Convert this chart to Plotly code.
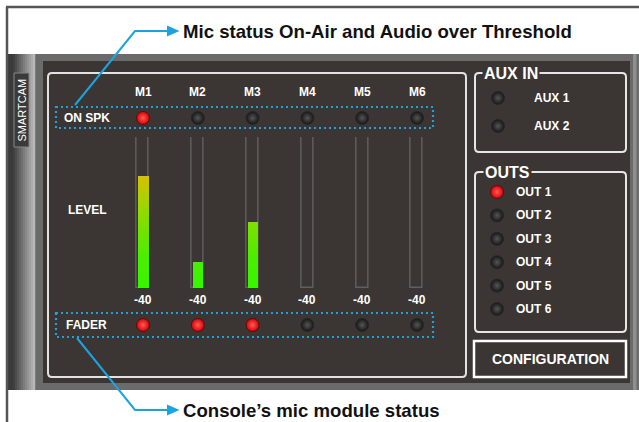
import plotly.graph_objects as go

# ---------------- data ----------------
channels = ["M1", "M2", "M3", "M4", "M5", "M6"]
on_spk = [1, 0, 0, 0, 0, 0]            # mic on-air / audio over threshold
level_pct = [74, 17, 44, 0, 0, 0]       # level meter fill (% of meter)
fader_db = [-40, -40, -40, -40, -40, -40]
fader_on = [1, 1, 1, 0, 0, 0]           # console mic module status
aux_names = ["AUX 1", "AUX 2"]
aux_on = [0, 0]
out_names = ["OUT 1", "OUT 2", "OUT 3", "OUT 4", "OUT 5", "OUT 6"]
out_on = [1, 0, 0, 0, 0, 0]
top_note = "Mic status On-Air and Audio over Threshold"
bottom_note = "Console\u2019s mic module status"

# ---------------- style / layout constants ----------------
W, H = 639, 422
PANEL = "#3b3633"
FRAME = "#6b6b6b"
BLUE = "#1ba3e0"
FONT = "Liberation Sans, Arial, sans-serif"
LED_EDGE = {1: "#d80000", 0: "#161616"}
LED_CENTER = {1: "#ff5a5a", 0: "#555555"}
LED_LINE = {1: "#5a0c0c", 0: "#262626"}

ROW_ONSPK_Y = 118
ROW_FADER_Y = 325
ROW_HEAD_Y = 92
ROW_DB_Y = 300


def px2py(v):
    return 1 - v / H


shapes = []


def rect(x0, y0, x1, y1, fill=None, line=None, lw=0, dash=None, layer="below"):
    d = dict(type="rect", xref="x", yref="y", x0=x0, y0=y0, x1=x1, y1=y1,
             layer=layer, line=dict(width=lw, color=line or "rgba(0,0,0,0)"))
    if dash:
        d["line"]["dash"] = dash
    if fill:
        d["fillcolor"] = fill
    shapes.append(d)


def rrect(x0, y0, x1, y1, r, color, lw):
    p = (f"M {x0+r} {y0} L {x1-r} {y0} Q {x1} {y0} {x1} {y0+r} L {x1} {y1-r} "
         f"Q {x1} {y1} {x1-r} {y1} L {x0+r} {y1} Q {x0} {y1} {x0} {y1-r} "
         f"L {x0} {y0+r} Q {x0} {y0} {x0+r} {y0} Z")
    shapes.append(dict(type="path", xref="x", yref="y", path=p, layer="below",
                       line=dict(color=color, width=lw)))


# outer frame
rect(35, 54, W, 390, fill=FRAME)
# left gradient strip
for i in range(14):
    x0 = 7 + 2 * i
    t = max(0.0, (x0 - 12) / 21)
    c = int(58 + t * (185 - 58))
    rect(x0, 54, x0 + 2.2, 390, fill=f"rgb({c},{c},{c})")
rect(633, 54, 636.5, 390, fill="#8f8f8f")
# inner dark panel
rect(43, 61, 630, 383, fill=PANEL)
# SMARTCAM tab
rect(14, 73, 29, 147, fill="#3a3a3a", line="#858585", lw=1)
# main panel and side boxes
rrect(48, 73, 466, 377, 4, "#e2e2e2", 2)
rrect(475, 73, 626, 152, 4, "#e6e6e6", 2)
rrect(475, 172, 626, 332, 4, "#e6e6e6", 2)
rect(474, 341, 626, 377, line="#ffffff", lw=2.5)
# dotted selection boxes
rect(56, 107, 433, 128, line=BLUE, lw=2.2, dash="2px,3px")
rect(56, 313, 433, 337, line=BLUE, lw=2.2, dash="2px,3px")
# callout arrows
for path, tri in [("M 75 105 L 135 31 L 169 31", "M 167 25.5 L 179.5 31 L 167 36.5 Z"),
                  ("M 77 338 L 135 410 L 169 410", "M 167 404.5 L 179.5 410 L 167 415.5 Z")]:
    shapes.append(dict(type="path", xref="x", yref="y", path=path, layer="below",
                       line=dict(color=BLUE, width=2)))
    shapes.append(dict(type="path", xref="x", yref="y", path=tri, layer="below",
                       fillcolor=BLUE, line=dict(color=BLUE, width=0)))
# page border lines
shapes.append(dict(type="line", xref="x", yref="y", x0=7, y0=7, x1=7, y1=H, layer="below",
                   line=dict(color="#555555", width=2.5)))
shapes.append(dict(type="line", xref="x", yref="y", x0=6, y0=7, x1=W, y1=7, layer="below",
                   line=dict(color="#555555", width=2.5)))

fig = go.Figure()

# meter outlines
fig.add_trace(go.Bar(x=channels, y=[100] * len(channels), width=0.22,
                     marker=dict(color="rgba(0,0,0,0)", line=dict(color="#5f5f5f", width=1.5)),
                     xaxis="x2", yaxis="y2", hoverinfo="skip"))
# meter fills, drawn as small stacked segments coloured by level
STEP = 1.0
seg_x, seg_base, seg_h, seg_c = [], [], [], []
for ch, v in zip(channels, level_pct):
    k = 0.0
    while k < v:
        h = min(STEP, v - k)
        seg_x.append(ch)
        seg_base.append(k)
        seg_h.append(min(h + 0.5, v - k))
        seg_c.append(k + h / 2)
        k += STEP
fig.add_trace(go.Bar(x=seg_x, y=seg_h, base=seg_base, width=0.19,
                     marker=dict(color=seg_c, cmin=0, cmax=100,
                                 colorscale=[[0, "#36f600"], [0.2, "#4aee00"], [0.44, "#80df00"],
                                             [0.74, "#d6c200"], [1, "#f0a000"]],
                                 line=dict(width=0)),
                     xaxis="x2", yaxis="y2", hoverinfo="skip"))


def leds(x, y, states, xaxis, yaxis):
    fig.add_trace(go.Scatter(
        x=x, y=y, mode="markers", xaxis=xaxis, yaxis=yaxis, hoverinfo="skip",
        marker=dict(size=13, color=[LED_EDGE[s] for s in states],
                    gradient=dict(type="radial", color=[LED_CENTER[s] for s in states]),
                    line=dict(color=[LED_LINE[s] for s in states], width=1))))


leds(channels, [ROW_ONSPK_Y] * len(channels), on_spk, "x2", "y")
leds(channels, [ROW_FADER_Y] * len(channels), fader_on, "x2", "y")
leds([498] * len(aux_names), aux_names, aux_on, "x", "y4")
leds([497] * len(out_names), out_names, out_on, "x", "y3")

ann = []


def label(text, x, y, size=12, xref="x", yref="y", xanchor="center", color="white",
          bold=True, **kw):
    ann.append(dict(text=text, x=x, y=y, xref=xref, yref=yref, xanchor=xanchor,
                    yanchor="middle", showarrow=False,
                    font=dict(family=FONT, size=size, color=color,
                              weight="bold" if bold else "normal"), **kw))


for ch in channels:
    label(ch, ch, ROW_HEAD_Y, xref="x2")
for ch, db in zip(channels, fader_db):
    label(str(db), ch, ROW_DB_Y, xref="x2")
label("ON SPK", 62, ROW_ONSPK_Y, xanchor="left")
label("LEVEL", 66, 210, xanchor="left")
label("FADER", 64, ROW_FADER_Y, xanchor="left")
for nm in aux_names:
    label(nm, 532, nm, yref="y4", xanchor="left")
for nm in out_names:
    label(nm, 514, nm, yref="y3", xanchor="left")
label("AUX IN", 482, 73, size=16, xanchor="left", bgcolor=PANEL, borderpad=1)
label("OUTS", 483, 172, size=16, xanchor="left", bgcolor=PANEL, borderpad=1)
label("CONFIGURATION", 550, 359, size=14)
label("SMARTCAM", 21.5, 110, size=11, bold=False, textangle=-90)
label(top_note, 181, 31, size=18.6, xanchor="left", color="#111111")
label(bottom_note, 181, 410, size=18.6, xanchor="left", color="#111111")

# channel axis domain: centres at 143 .. 417 px
ch_left, ch_right = 115.6, 444.4
out_top, out_bot = 180.3, 320.7
aux_top, aux_bot = 84, 140

fig.update_layout(
    width=W, height=H, margin=dict(l=0, r=0, t=0, b=0),
    paper_bgcolor="white", plot_bgcolor="rgba(0,0,0,0)",
    showlegend=False, barmode="overlay", bargap=0,
    shapes=shapes, annotations=ann,
    xaxis=dict(range=[0, W], domain=[0, 1], visible=False, fixedrange=True),
    yaxis=dict(range=[H, 0], domain=[0, 1], visible=False, fixedrange=True),
    xaxis2=dict(type="category", categoryorder="array", categoryarray=channels,
                range=[-0.5, len(channels) - 0.5],
                domain=[ch_left / W, ch_right / W], anchor="y2", visible=False),
    yaxis2=dict(range=[0, 100], domain=[px2py(288), px2py(137)], anchor="x2", visible=False),
    yaxis3=dict(type="category", categoryorder="array", categoryarray=out_names,
                range=[len(out_names) - 0.5, -0.5],
                domain=[px2py(out_bot), px2py(out_top)], anchor="x", visible=False),
    yaxis4=dict(type="category", categoryorder="array", categoryarray=aux_names,
                range=[len(aux_names) - 0.5, -0.5],
                domain=[px2py(aux_bot), px2py(aux_top)], anchor="x", visible=False),
)

fig.write_html("out.html", config={"displayModeBar": False},
               post_script="document.body.style.margin='0';document.body.style.overflow='hidden';")
